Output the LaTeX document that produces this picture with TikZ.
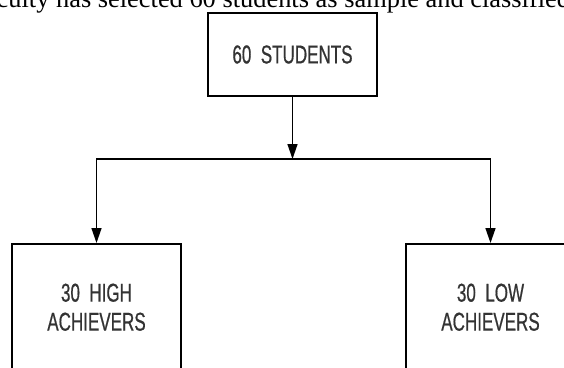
\documentclass[tikz,border=0pt]{standalone}
\usepackage{fontspec}
\setmainfont{Liberation Serif}
\newfontfamily\diagfont{Liberation Sans}[FakeStretch=0.66,FakeBold=0.6]
\usetikzlibrary{arrows.meta}

\begin{document}
\begin{tikzpicture}[x=1bp,y=-1bp,
  box/.style={draw, line width=1.5bp, minimum width=169bp, inner sep=0pt,
    font=\diagfont\fontsize{25.8bp}{29bp}\selectfont, text=black!80, align=center},
  link/.style={line width=1.4bp},
  arrowlink/.style={link, -{Triangle[length=15bp,width=10bp]}}]
\useasboundingbox (0,0) rectangle (564,367);
\clip (0,0) rectangle (564,367);
% running text line above the chart
\node[anchor=base west, inner sep=0pt, font=\fontsize{26.4bp}{30bp}\selectfont]
  (caption) at (-24,7) {faculty has selected 60 students as sample and classified};
% boxes
\node[box, minimum height=83bp] (all) at (292.5,54.5) {60\ \ STUDENTS};
\node[box, minimum height=127bp, anchor=north] (high) at (96.5,243) {30\ \ HIGH\\ACHIEVERS};
\node[box, minimum height=127bp, anchor=north] (low) at (490.5,243) {30\ \ LOW\\ACHIEVERS};
% connectors
\coordinate (split) at (292.5,159);
\draw[arrowlink] (all) -- (split);
\draw[arrowlink] (split) -| (high.north);
\draw[arrowlink] (split) -| (low.north);
\end{tikzpicture}
\end{document}
